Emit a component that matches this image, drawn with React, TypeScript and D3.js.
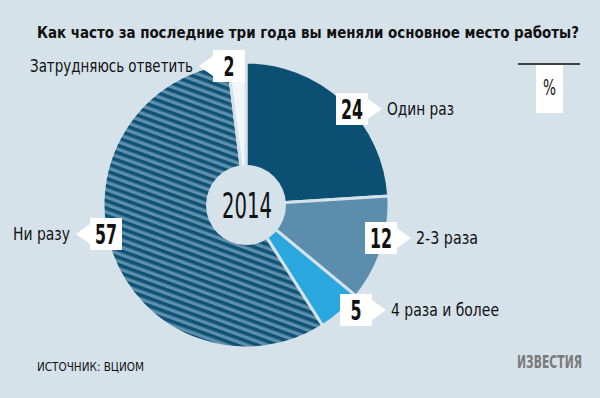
import React from "react";
import * as d3 from "d3";

const title = "Как часто за последние три года вы меняли основное место работы?";
const categories = ["Один раз", "2-3 раза", "4 раза и более", "Ни разу", "Затрудняюсь ответить"];
const values = [24, 12, 5, 57, 2];
const yearLabel = "2014";
const unitLabel = "%";
const sourceLabel = "ИСТОЧНИК: ВЦИОМ";
const brandLabel = "ИЗВЕСТИЯ";

const W = 600;
const H = 398;
const BG = "#d6e2ea";
const FONT = "'Liberation Sans Narrow', 'DejaVu Sans Condensed', 'Roboto Condensed', Arial Narrow, sans-serif";
const fills = ["#0b4f72", "#5b8eac", "#2ba7df", "url(#hatch)", "#f2f6f8"];

// label layout: box left x, center y, arrow direction, text width
const labelLayout = [
  { bx: 336, cy: 109, dir: 1, tw: 67 },
  { bx: 365, cy: 238, dir: 1, tw: 62 },
  { bx: 340, cy: 310, dir: 1, tw: 108 },
  { bx: 90, cy: 234, dir: -1, tw: 57 },
  { bx: 213, cy: 66, dir: -1, tw: 163 },
];

export default function App() {
  const cx = 246;
  const cy = 205;
  const r = 143;
  const pie = d3.pie<number>().sort(null).value((d) => d).startAngle(0).endAngle(2 * Math.PI);
  const arcs = pie(values);
  const arc = d3.arc<d3.PieArcDatum<number>>().innerRadius(0).outerRadius(r);

  const boxW = 32;
  const boxH = 32;
  const tipW = 14;
  const tipH = 10;

  return (
    <svg width={W} height={H} style={{ position: "absolute", left: 0, top: 0 }} fontFamily={FONT}>
      <defs>
        <pattern id="hatch" patternUnits="userSpaceOnUse" width={40} height={7} patternTransform="rotate(20)">
          <rect x={0} y={0} width={40} height={7} fill="#5f8fad" />
          <rect x={0} y={0} width={40} height={3.6} fill="#0e5274" />
        </pattern>
      </defs>
      <rect x={0} y={0} width={W} height={H} fill={BG} />

      <text x={37} y={38} fontSize={16} fontWeight="bold" fill="#111" textLength={542} lengthAdjust="spacingAndGlyphs">
        {title}
      </text>

      <g transform={`translate(${cx},${cy})`}>
        {arcs.map((a, i) => (
          <path key={i} d={arc(a) || ""} fill={fills[i]} stroke={BG} strokeWidth={3} strokeLinejoin="round" />
        ))}
        <circle r={40} fill={BG} />
        <text x={1} y={13} textAnchor="middle" fontSize={36} fill="#111" textLength={50} lengthAdjust="spacingAndGlyphs">
          {yearLabel}
        </text>
      </g>

      {values.map((v, i) => {
        const L = labelLayout[i];
        const x0 = L.bx;
        const x1 = L.bx + boxW;
        const y0 = L.cy - boxH / 2;
        const y1 = L.cy + boxH / 2;
        let d: string;
        if (L.dir > 0) {
          d = `M${x0},${y0}H${x1}V${L.cy - tipH}L${x1 + tipW},${L.cy}L${x1},${L.cy + tipH}V${y1}H${x0}Z`;
        } else {
          d = `M${x1},${y0}H${x0}V${L.cy - tipH}L${x0 - tipW},${L.cy}L${x0},${L.cy + tipH}V${y1}H${x1}Z`;
        }
        const tx = L.dir > 0 ? x1 + tipW + 5 : x0 - tipW - 6;
        const numW = String(v).length * 11;
        return (
          <g key={i}>
            <path d={d} fill="#ffffff" />
            <text
              x={(x0 + x1) / 2 - numW / 2}
              y={L.cy + 10}
              fontSize={27}
              fontWeight="bold"
              fill="#111"
              textLength={numW}
              lengthAdjust="spacingAndGlyphs"
            >
              {v}
            </text>
            <text
              x={L.dir > 0 ? tx : tx - L.tw}
              y={L.cy + 6}
              fontSize={17}
              fill="#111"
              textLength={L.tw}
              lengthAdjust="spacingAndGlyphs"
            >
              {categories[i]}
            </text>
          </g>
        );
      })}

      <line x1={518} x2={580} y1={64} y2={64} stroke="#111" strokeWidth={1.5} />
      <rect x={536} y={65} width={27} height={48} fill="#ffffff" />
      <text x={549.5} y={95} textAnchor="middle" fontSize={22} fill="#111" textLength={13} lengthAdjust="spacingAndGlyphs">
        {unitLabel}
      </text>

      <text x={37} y={371} fontSize={13} fill="#111" textLength={107} lengthAdjust="spacingAndGlyphs">
        {sourceLabel}
      </text>
      <text x={517} y={368} fontSize={17} fontWeight="bold" fill="#7a7a7a" textLength={65} lengthAdjust="spacingAndGlyphs">
        {brandLabel}
      </text>
    </svg>
  );
}
